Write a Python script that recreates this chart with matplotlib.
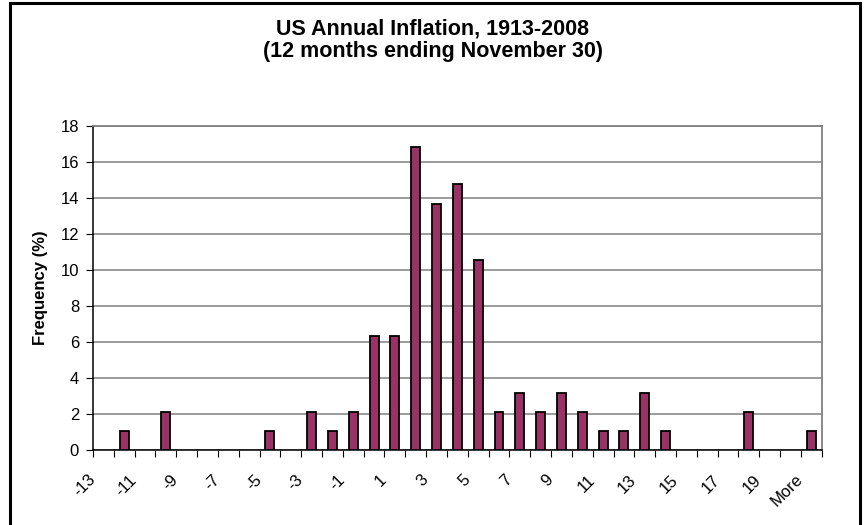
import numpy as np
import matplotlib
matplotlib.use("Agg")
import matplotlib.pyplot as plt
import matplotlib.transforms as mtransforms
from matplotlib.patches import Rectangle

plt.rcParams['font.family'] = ['Liberation Sans', 'DejaVu Sans']

# histogram bins (upper bound, %), last one is the overflow bin
bins = [str(b) for b in range(-13, 21)] + ["More"]
# frequency in percent of 95 years
freq = [0, 1.05, 0, 2.11, 0, 0, 0, 0, 1.05, 0, 2.11, 1.05, 2.11,
        6.32, 6.32, 16.84, 13.68, 14.74, 10.53, 2.11, 3.16, 2.11, 3.16,
        2.11, 1.05, 1.05, 3.16, 1.05, 0, 0, 0, 2.11, 0, 0, 1.05]

fig = plt.figure(figsize=(8.66, 5.25), dpi=100)
ax = fig.add_axes([93 / 866, 75 / 525, 728.7 / 866, 324.3 / 525])

x = np.arange(len(bins))
f = np.array(freq)
nz = f > 0  # empty bins get no bar at all
ax.bar(x[nz], f[nz], width=0.43, color="#993366", edgecolor="black", linewidth=1.3, zorder=3)

ax.set_xlim(-0.5, len(bins) - 0.5)
ax.set_ylim(0, 18)
ax.set_yticks(np.arange(0, 19, 2))
ax.yaxis.grid(True, color="#808080", linewidth=1.1, zorder=0)

# tick marks between categories, no tick labels
ax.set_xticks(np.arange(len(bins) + 1) - 0.5)
ax.set_xticklabels([])
ax.tick_params(axis="x", length=5, direction="out", color="black")
ax.tick_params(axis="y", length=5, direction="out", labelsize=12, pad=5)

# category labels on every other bin, slanted, sitting a bit left of the bar
trans = mtransforms.blended_transform_factory(ax.transData, ax.transAxes)
trans = trans + mtransforms.ScaledTranslation(-16 / 100, -22 / 100, fig.dpi_scale_trans)
for xi, lab in zip(x[::2], bins[::2]):
    ax.text(xi, 0, lab, transform=trans, rotation=45, ha="right", va="top",
            rotation_mode="anchor", fontsize=12, clip_on=False)

for side in ["top", "right"]:
    ax.spines[side].set_color("#808080")
    ax.spines[side].set_linewidth(1.3)
for side in ["left", "bottom"]:
    ax.spines[side].set_color("black")
    ax.spines[side].set_linewidth(1.1)

ax.set_ylabel("Frequency (%)", fontsize=12, fontweight="bold", labelpad=9)

fig.text(0.5, 1 - 29 / 525, "US Annual Inflation, 1913-2008", ha="center", va="center",
         fontsize=15.5, fontweight="bold")
fig.text(0.5, 1 - 51 / 525, "(12 months ending November 30)", ha="center", va="center",
         fontsize=15.5, fontweight="bold")

# chart frame
fig.patches.append(Rectangle((10 / 866, -0.02), 850 / 866, 1.02 - 3 / 525,
                             transform=fig.transFigure, fill=False,
                             edgecolor="black", linewidth=2.2))

fig.savefig("out.png", dpi=100)
